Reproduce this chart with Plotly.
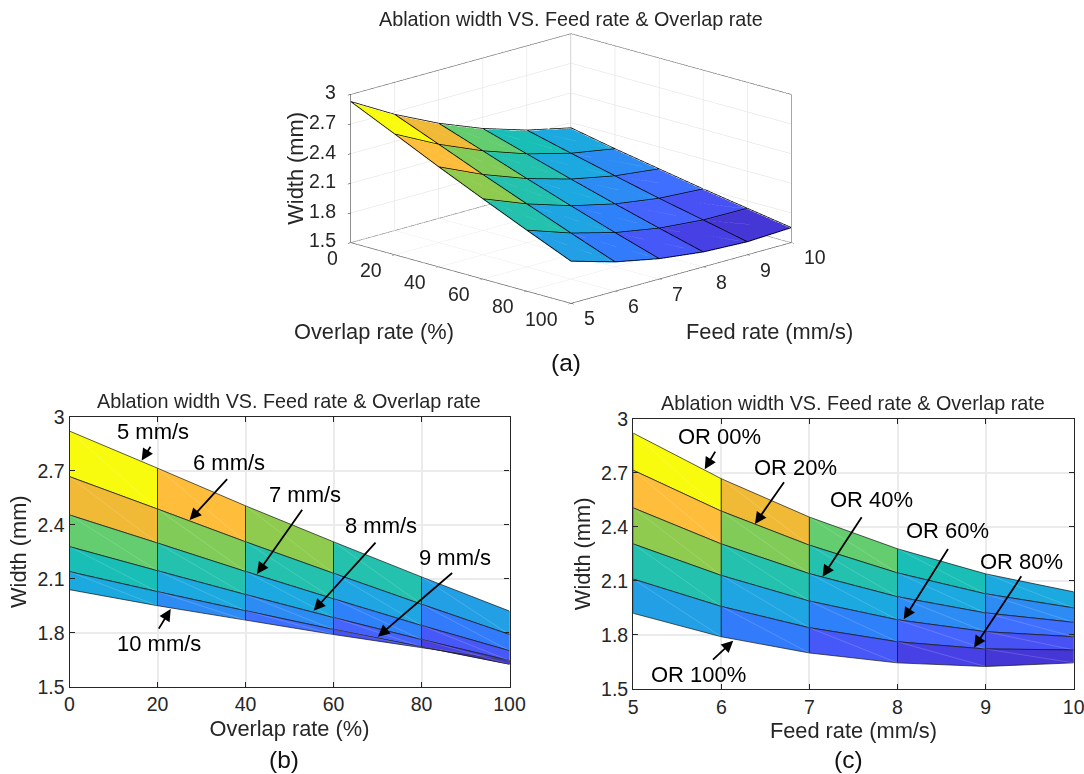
import plotly.graph_objects as go

overlap_rate = [0, 20, 40, 60, 80, 100]
feed_rate = [5, 6, 7, 8, 9, 10]
width_5 = [2.92, 2.714, 2.505, 2.305, 2.11, 1.92]
width_6 = [2.667, 2.487, 2.305, 2.13, 1.958, 1.79]
width_7 = [2.454, 2.298, 2.14, 1.988, 1.84, 1.70]
width_8 = [2.278, 2.144, 2.012, 1.884, 1.762, 1.645]
width_9 = [2.139, 2.028, 1.922, 1.818, 1.722, 1.625]
width_10 = [2.039, 1.95, 1.87, 1.79, 1.717, 1.645]
width_tick = [1.5, 1.8, 2.1, 2.4, 2.7, 3]
title_text = "Ablation width VS. Feed rate & Overlap rate"

W = [width_5, width_6, width_7, width_8, width_9, width_10]

PARULA = """.2422 .1504 .6603;.2504 .1650 .7076;.2578 .1818 .7511;.2647 .1978 .7952;.2706 .2147 .8364;.2751 .2342 .8710;
.2783 .2559 .8991;.2803 .2782 .9221;.2813 .3006 .9414;.2810 .3228 .9579;.2795 .3447 .9717;.2760 .3667 .9829;.2699 .3892 .9906;
.2602 .4123 .9952;.2440 .4358 .9988;.2206 .4603 .9973;.1963 .4847 .9892;.1834 .5074 .9798;.1786 .5289 .9682;.1764 .5499 .9520;
.1687 .5703 .9359;.1540 .5902 .9218;.1460 .6091 .9079;.1380 .6276 .8973;.1248 .6459 .8883;.1113 .6635 .8763;.0952 .6798 .8598;
.0689 .6948 .8394;.0297 .7082 .8163;.0036 .7203 .7917;.0067 .7312 .7660;.0433 .7411 .7394;.0964 .7500 .7120;.1408 .7584 .6842;
.1717 .7670 .6554;.1938 .7758 .6251;.2161 .7843 .5923;.2470 .7918 .5567;.2906 .7973 .5188;.3406 .8008 .4789;.3909 .8029 .4354;
.4456 .8024 .3909;.5044 .7993 .3480;.5616 .7942 .3045;.6174 .7876 .2612;.6720 .7793 .2227;.7242 .7698 .1910;.7738 .7598 .1646;
.8203 .7498 .1535;.8634 .7406 .1596;.9035 .7330 .1774;.9393 .7288 .2100;.9728 .7298 .2394;.9956 .7434 .2371;.9970 .7659 .2199;
.9952 .7861 .1996;.9892 .8046 .1811;.9817 .8249 .1630;.9689 .8437 .1507;.9655 .8652 .1400;.9637 .8906 .1329;.9599 .9176 .1200;
.9644 .9420 .0900;.9763 .9831 .0538"""
PARULA = [tuple(float(v) for v in row.split()) for row in PARULA.replace("\n", "").split(";")]
zmin = min(min(r) for r in W)
zmax = max(max(r) for r in W)


def colour(v):
    i = min(63, int((v - zmin) / (zmax - zmin) * 64))
    r, g, b = PARULA[i]
    return f"rgb({round(r*255)},{round(g*255)},{round(b*255)})"


INK = "#262626"
FONT = "Liberation Sans"
fig = go.Figure()

# ---- panel (a): 3-D faceted surface ----
nf, no = len(feed_rate), len(overlap_rate)
vx, vy, vz = [], [], []
for f, row in zip(feed_rate, W):
    for o, z in zip(overlap_rate, row):
        vx.append(o); vy.append(f); vz.append(z)
ti, tj, tk, fc = [], [], [], []
ex, ey, ez = [], [], []
dx, dy, dz = [], [], []
LIFT = 0.003
EDGE_LIFT = 0.008
for j in range(nf):
    for i in range(no):
        a = j * no + i
        if j < nf - 1 and i < no - 1:
            b, c, d = a + 1, a + no, a + no + 1
            ti += [a, a]; tj += [b, d]; tk += [d, c]
            fc += [colour(vz[a])] * 2
            dx += [vx[a], vx[d], None]; dy += [vy[a], vy[d], None]; dz += [vz[a] + LIFT, vz[d] + LIFT, None]
        if i < no - 1:
            ex += [vx[a], vx[a + 1], None]; ey += [vy[a], vy[a + 1], None]
            ez += [vz[a] + EDGE_LIFT, vz[a + 1] + EDGE_LIFT, None]
        if j < nf - 1:
            ex += [vx[a], vx[a + no], None]; ey += [vy[a], vy[a + no], None]
            ez += [vz[a] + EDGE_LIFT, vz[a + no] + EDGE_LIFT, None]

fig.add_trace(go.Mesh3d(x=vx, y=vy, z=vz, i=ti, j=tj, k=tk, facecolor=fc, flatshading=True,
                        lighting=dict(ambient=1, diffuse=0, specular=0, roughness=1, fresnel=0),
                        hoverinfo="skip", showscale=False, scene="scene"))
fig.add_trace(go.Scatter3d(x=ex, y=ey, z=ez, mode="lines", line=dict(color="#000000", width=1.5),
                           hoverinfo="skip", showlegend=False, scene="scene"))
fig.add_trace(go.Scatter3d(x=dx, y=dy, z=dz, mode="lines", opacity=0.18, line=dict(color="#ffffff", width=1),
                           hoverinfo="skip", showlegend=False, scene="scene"))
x0, x1 = overlap_rate[0], overlap_rate[-1]
y0, y1 = feed_rate[0], feed_rate[-1]
z0, z1 = width_tick[0], width_tick[-1]
bx = [x0, x1, None, x1, x1, None, x0, x0, None, x0, x0, None, x0, x1, None, x1, x1, None, x0, x0, None, x0, x1]
by = [y0, y0, None, y0, y1, None, y0, y1, None, y1, y1, None, y1, y1, None, y1, y1, None, y0, y0, None, y1, y1]
bz = [z0, z0, None, z0, z0, None, z0, z0, None, z0, z1, None, z0, z0, None, z0, z1, None, z0, z1, None, z1, z1]
bx += [None, x0, x0]; by += [None, y0, y1]; bz += [None, z1, z1]
fig.add_trace(go.Scatter3d(x=bx, y=by, z=bz, mode="lines", line=dict(color=INK, width=1.2),
                           hoverinfo="skip", showlegend=False, scene="scene"))


def ax3(rng, ticks):
    return dict(range=rng, autorange=False, tickvals=ticks, showticklabels=False, title=dict(text=""),
                showbackground=False, showgrid=True, gridcolor="#dedede", gridwidth=1, zeroline=False,
                showline=False, ticks="inside", ticklen=4, tickcolor=INK, showspikes=False)


R = 2.5
S = 1.849
fig.update_layout(scene=dict(
    domain=dict(x=[0.2272, 0.8272], y=[0.565, 1.0]),
    xaxis=ax3([x0, x1], overlap_rate), yaxis=ax3([y0, y1], feed_rate), zaxis=ax3([z0, z1], width_tick),
    aspectmode="manual", aspectratio=dict(x=S, y=S, z=0.495 * S),
    camera=dict(projection=dict(type="orthographic"), center=dict(x=0, y=0, z=0), up=dict(x=0, y=0, z=1),
                eye=dict(x=R * 0.68, y=-R * 0.68, z=R * 0.276)),
))
scene_notes = []
for z in width_tick:
    scene_notes.append(dict(x=x0, y=y0, z=z, text=f"{z:g}", xanchor="right", xshift=-13, yshift=2))
for o in overlap_rate:
    scene_notes.append(dict(x=o, y=y0, z=z0, text=f"{o}", xanchor="right", xshift=-11, yshift=-15.5))
for f in feed_rate:
    scene_notes.append(dict(x=x1, y=f, z=z0, text=f"{f}", xanchor="left", xshift=10.5, yshift=-15))
for n in scene_notes:
    n.update(showarrow=False, font=dict(family=FONT, size=19.5, color=INK))
fig.update_layout(scene_annotations=scene_notes)


# ---- panels (b), (c) ----
def flat_panel(xs, rows, xa, ya, xswap):
    """rows[j][i]: facet j along the stacking direction, i along the x axis"""
    gx, gy = [], []
    for j in range(len(rows) - 1):
        for i in range(len(xs) - 1):
            px = [xs[i], xs[i + 1], xs[i + 1], xs[i], xs[i]]
            py = [rows[j][i], rows[j][i + 1], rows[j + 1][i + 1], rows[j + 1][i], rows[j][i]]
            fig.add_trace(go.Scatter(x=px, y=py, mode="lines", fill="toself", fillcolor=colour(rows[j][i]),
                                     line=dict(color="#151515", width=0.7), hoverinfo="skip",
                                     showlegend=False, xaxis=xa, yaxis=ya))
            gx += [xs[i], xs[i + 1], None]; gy += [rows[j][i], rows[j + 1][i + 1], None]
    fig.add_trace(go.Scatter(x=gx, y=gy, mode="lines", line=dict(color="rgba(255,255,255,0.28)", width=0.6),
                             hoverinfo="skip", showlegend=False, xaxis=xa, yaxis=ya))


flat_panel(overlap_rate, W, "x", "y", False)
W_t = [[W[j][i] for j in range(nf)] for i in range(no)]
flat_panel(feed_rate, W_t, "x2", "y2", True)


def ax2d(rng, ticks, title, dom, anchor, standoff):
    return dict(range=rng, tickvals=ticks, domain=dom, anchor=anchor, showgrid=True, gridcolor="#ebebeb", gridwidth=1.5,
                zeroline=False, showline=True, linecolor=INK, linewidth=1.2, mirror="allticks", automargin=False,
                ticks="inside", ticklen=5, tickcolor=INK, ticklabeloverflow="allow",
                tickfont=dict(family=FONT, size=19.5, color=INK),
                title=dict(text=title, standoff=standoff, font=dict(family=FONT, size=21.8, color=INK)))


H = 774.0
WD = 1084.0
fig.update_layout(
    xaxis=ax2d([0, 100], overlap_rate, "Overlap rate (%)", [69.5 / WD, 509.5 / WD], "y", 6),
    yaxis=ax2d([1.5, 3], width_tick, "Width (mm)", [1 - 686.7 / H, 1 - 416.7 / H], "x", 4),
    xaxis2=ax2d([5, 10], feed_rate, "Feed rate (mm/s)", [633.2 / WD, 1073.7 / WD], "y2", 6),
    yaxis2=ax2d([1.5, 3], width_tick, "Width (mm)", [1 - 689 / H, 1 - 418.7 / H], "x2", 4),
)

# panel labels and titles
notes = []


def paper(text, px, py, size, angle=0):
    notes.append(dict(x=px / WD, y=1 - py / H, xref="paper", yref="paper", text=text, showarrow=False,
                      xanchor="center", yanchor="middle", textangle=angle,
                      font=dict(family=FONT, size=size, color="#111111" if size > 23 else INK)))


paper(title_text, 571, 19, 19.8)
paper(title_text, 289, 400.7, 19.8)
paper(title_text, 853.3, 403.3, 19.8)
paper("Overlap rate (%)", 373.6, 331.7, 21.8)
paper("Feed rate (mm/s)", 769.5, 331.7, 21.8)
paper("Width (mm)", 295.7, 168, 21.8, -90)
paper("(a)", 566.4, 362, 24.5)
paper("(b)", 284, 759, 24.5)
paper("(c)", 848.3, 759, 24.5)

callouts_b = ["5 mm/s", "6 mm/s", "7 mm/s", "8 mm/s", "9 mm/s", "10 mm/s"]
tips_b = [(16.4, 2.757), (27.3, 2.426), (42.6, 2.126), (55.5, 1.922), (70.1, 1.778), (23.0, 1.931)]
tails_b = [(9.8, -15.3), (38.9, -42.3), (46.3, -65.7), (63.2, -69.7), (75.7, -65), (-12.8, 21)]
spots_b = [(153, 431.7), (229, 462.7), (305.3, 494), (381, 525), (455.4, 557.3), (159, 643.3)]

callouts_c = ["OR 00%", "OR 20%", "OR 40%", "OR 60%", "OR 80%", "OR 100%"]
tips_c = [(5.812, 2.72), (6.382, 2.416), (7.149, 2.123), (8.071, 1.887), (8.869, 1.73), (6.135, 1.768)]
tails_c = [(11.4, -19), (30.1, -43.3), (40.1, -61), (45.2, -71.7), (48.2, -72.7), (-21.7, 20.3)]
spots_c = [(719.5, 436.7), (795.8, 467.3), (871.7, 499.3), (947, 530.3), (1021.5, 561), (698.1, 674)]

for text, tip, tail, spot, xr, yr in (
    [(*row, "x", "y") for row in zip(callouts_b, tips_b, tails_b, spots_b)]
    + [(*row, "x2", "y2") for row in zip(callouts_c, tips_c, tails_c, spots_c)]
):
    notes.append(dict(x=tip[0], y=tip[1], xref=xr, yref=yr, ax=tail[0], ay=tail[1], text="", showarrow=True,
                      arrowhead=2, arrowsize=1.3, arrowwidth=1.8, arrowcolor="black"))
    notes.append(dict(x=spot[0] / WD, y=1 - spot[1] / H, xref="paper", yref="paper", text=text, showarrow=False,
                      xanchor="center", yanchor="middle", font=dict(family=FONT, size=22, color="black")))

fig.update_layout(annotations=notes, width=1084, height=774, autosize=False, margin=dict(l=0, r=0, t=0, b=0),
                  paper_bgcolor="white", plot_bgcolor="white", showlegend=False, font=dict(family=FONT))
fig.write_html("out.html", config=dict(displayModeBar=False), post_script="document.body.style.margin='0';")
